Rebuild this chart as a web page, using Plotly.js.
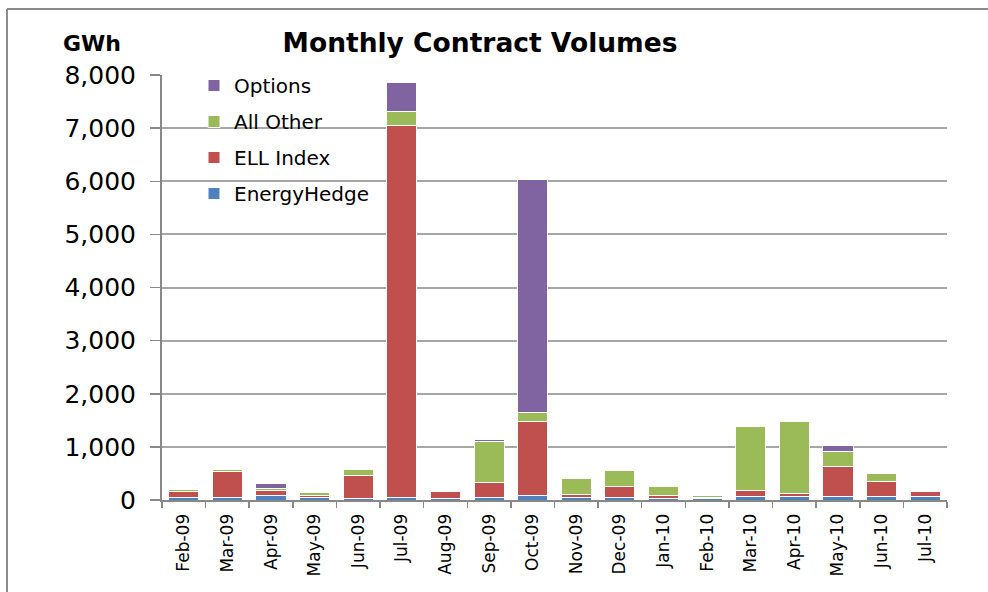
<!DOCTYPE html>
<html>
<head>
<meta charset="utf-8">
<script src="https://cdn.plot.ly/plotly-3.0.1.min.js"></script>
<style>html,body{margin:0;padding:0;background:#fff;}#chart{width:988px;height:592px;}</style>
</head>
<body>
<div id="chart"></div>
<script>
const months = ["Feb-09","Mar-09","Apr-09","May-09","Jun-09","Jul-09","Aug-09","Sep-09","Oct-09","Nov-09","Dec-09","Jan-10","Feb-10","Mar-10","Apr-10","May-10","Jun-10","Jul-10"];
const energyHedge = [45, 45, 80, 55, 35, 45, 30, 40, 80, 55, 40, 35, 30, 60, 60, 60, 60, 60];
const ellIndex    = [120, 490, 90, 35, 420, 7000, 125, 285, 1390, 45, 215, 45, 25, 115, 70, 580, 290, 95];
const allOther    = [35, 35, 55, 45, 125, 275, 25, 780, 180, 310, 300, 170, 25, 1205, 1345, 280, 150, 30];
const options     = [0, 0, 90, 0, 0, 540, 0, 25, 4380, 0, 0, 0, 0, 0, 0, 115, 0, 0];
const yTicks = [0,1000,2000,3000,4000,5000,6000,7000,8000];

const mk = (name, y, color, rank) => ({
  type: 'bar', name: name, x: months, y: y, legendgroup: name, legendrank: rank,
  marker: {color: color, line: {color: '#ffffff', width: 1}},
  hoverinfo: 'x+y+name'
});
const data = [
  mk('EnergyHedge', energyHedge, '#4F81BD', 4),
  mk('ELL Index', ellIndex, '#C0504D', 3),
  mk('All Other', allOther, '#9BBB59', 2),
  mk('Options', options, '#8064A2', 1)
];

const L = 162, R = 947, T = 75, B = 500;
const px = v => (v - L) / (R - L);
const py = v => (B - v) / (B - T);

const layout = {
  width: 988, height: 592,
  margin: {l: L, r: 988 - R, t: T, b: 592 - B},
  paper_bgcolor: '#ffffff', plot_bgcolor: '#ffffff',
  barmode: 'stack', bargap: 0.31,
  font: {family: 'DejaVu Sans', color: '#000'},
  title: {text: '<b>Monthly Contract Volumes</b>', font: {family: 'DejaVu Sans', size: 26.5, color: '#000'},
          x: 480/988, xanchor: 'center', xref: 'container', y: 1 - 43/592, yanchor: 'middle', yref: 'container'},
  showlegend: true,
  legend: {x: px(194), xanchor: 'left', y: py(66), yanchor: 'top', traceorder: 'grouped',
           tracegroupgap: 7, font: {family: 'DejaVu Sans', size: 20, color: '#000'}, bgcolor: 'rgba(0,0,0,0)'},
  xaxis: {type: 'category', showline: true, linecolor: '#888888', linewidth: 2,
          ticks: 'outside', tickson: 'boundaries', ticklen: 6, tickcolor: '#888888', tickwidth: 1.5,
          tickangle: -90, tickfont: {family: 'DejaVu Sans', size: 17, color: '#000'}, ticklabelstandoff: 5,
          showgrid: false, fixedrange: true},
  yaxis: {range: [0, 8000], tickvals: yTicks, ticktext: yTicks.map(v => v.toLocaleString('en-US')),
          showline: true, linecolor: '#888888', linewidth: 2,
          ticks: 'outside', ticklen: 10, tickcolor: '#888888', tickwidth: 1.5,
          showgrid: true, gridcolor: '#A6A6A6', gridwidth: 2, zeroline: false,
          tickfont: {family: 'DejaVu Sans', size: 25, color: '#000'}, ticklabelstandoff: 9, fixedrange: true},
  annotations: [{text: '<b>GWh</b>', xref: 'paper', yref: 'paper', x: px(92), y: py(44),
                 xanchor: 'center', yanchor: 'middle', showarrow: false,
                 font: {family: 'DejaVu Sans', size: 22, color: '#000'}}],
  shapes: [
    {type: 'line', xref: 'paper', yref: 'paper', x0: px(7), x1: px(988), y0: py(9), y1: py(9), line: {color: '#8C8C8C', width: 2}},
    {type: 'line', xref: 'paper', yref: 'paper', x0: px(7), x1: px(7), y0: py(9), y1: py(592), line: {color: '#8C8C8C', width: 2}}
  ]
};
Plotly.newPlot('chart', data, layout, {displayModeBar: false, staticPlot: true});
</script>
</body>
</html>
